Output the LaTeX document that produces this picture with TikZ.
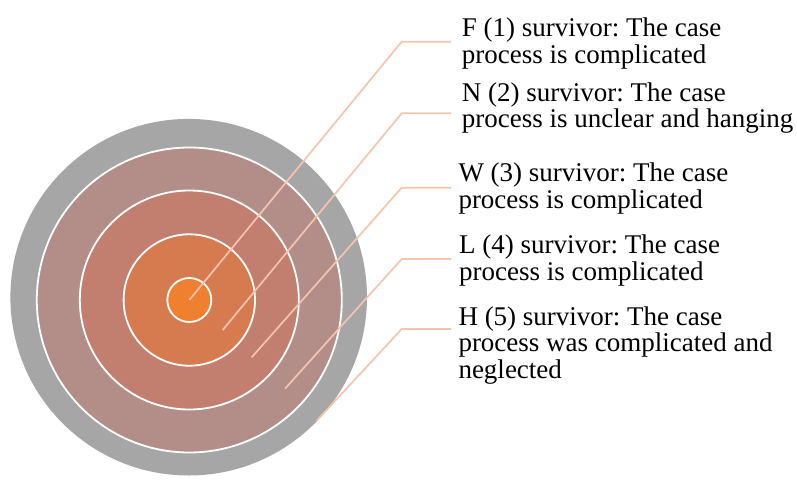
\documentclass[tikz,border=0pt]{standalone}
\usepackage{fontspec}
\setmainfont{Liberation Serif}
\frenchspacing
\definecolor{cInner}{RGB}{238,128,48}
\definecolor{cRingB}{RGB}{214,122,80}
\definecolor{cRingC}{RGB}{194,126,110}
\definecolor{cRingD}{RGB}{179,142,136}
\definecolor{cGray}{RGB}{166,166,166}
\definecolor{cLead}{RGB}{245,196,175}
\begin{document}
\begin{tikzpicture}[x=1pt,y=-1pt,
  ring/.style={draw=white,line width=1.8pt},
  lead/.style={draw=cLead,line width=1.7pt},
  lbl/.style={anchor=base west,inner sep=0pt,font=\fontsize{27}{26.7}\selectfont}]
\useasboundingbox (0,0) rectangle (797,479);
\fill[cGray] (188.7,297.2) circle (178.3);
\path[ring,fill=cRingD] (189.3,300) circle (152.5);
\path[ring,fill=cRingC] (189.3,300) circle (109.5);
\path[ring,fill=cRingB] (189.3,300) circle (65.7);
\path[ring,fill=cInner] (189.3,300) circle (22);
% leader coordinates
\coordinate (s1) at (189.3,300);
\coordinate (b1) at (401.7,41.7);
\coordinate (e1) at (451,41.7);
\coordinate (s2) at (222.7,330);
\coordinate (b2) at (401.7,113.3);
\coordinate (e2) at (451,113.3);
\coordinate (s3) at (251.7,357.3);
\coordinate (b3) at (401.7,187.7);
\coordinate (e3) at (451,187.7);
\coordinate (s4) at (285,388.7);
\coordinate (b4) at (401.7,259);
\coordinate (e4) at (451,259);
\coordinate (s5) at (316.7,420.7);
\coordinate (b5) at (401.7,329);
\coordinate (e5) at (451,329);
\draw[lead] (s1) -- (b1) -- (e1);
\draw[lead] (s2) -- (b2) -- (e2);
\draw[lead] (s3) -- (b3) -- (e3);
\draw[lead] (s4) -- (b4) -- (e4);
\draw[lead] (s5) -- (b5) -- (e5);
\node[lbl] (t1) at (461.7,36.7) {\parbox[t]{340pt}{\raggedright F (1) survivor: The case\\process is complicated}};
\node[lbl] (t2) at (461.7,101) {\parbox[t]{340pt}{\raggedright N (2) survivor: The case\\process is unclear and hanging}};
\node[lbl] (t3) at (458.3,181.7) {\parbox[t]{340pt}{\raggedright W (3) survivor: The case\\process is complicated}};
\node[lbl] (t4) at (459,253.3) {\parbox[t]{340pt}{\raggedright L (4) survivor: The case\\process is complicated}};
\node[lbl] (t5) at (458.3,325) {\parbox[t]{340pt}{\raggedright H (5) survivor: The case\\process was complicated and\\neglected}};
\end{tikzpicture}
\end{document}
